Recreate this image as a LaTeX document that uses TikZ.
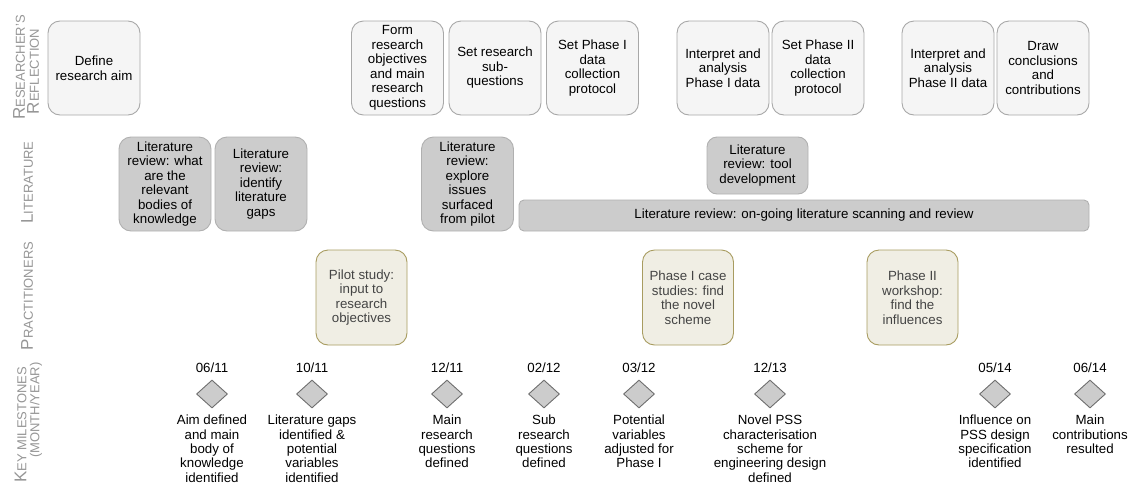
\documentclass[tikz,border=0pt]{standalone}
\usepackage{fontspec}
\setmainfont{Liberation Sans}
\usetikzlibrary{shapes.geometric}

% palette
\definecolor{refFill}{HTML}{F5F5F5}
\definecolor{refDraw}{HTML}{A8A8A8}
\definecolor{litFill}{HTML}{CCCCCC}
\definecolor{litDraw}{HTML}{B0B0B0}
\definecolor{praFill}{HTML}{F0EEE4}
\definecolor{praDraw}{HTML}{A89C60}
\definecolor{praText}{HTML}{444444}
\definecolor{msFill}{HTML}{CCCCCC}
\definecolor{msDraw}{HTML}{6E6E6E}
\definecolor{laneText}{HTML}{969696}

% text sizes
\newcommand\txtsize{\fontsize{13.3}{14.5}\selectfont}
\newcommand\mssize{\fontsize{13.3}{14.3}\selectfont}
\newcommand\capL[1]{{\fontsize{17}{17}\selectfont #1}}
\newcommand\capS[1]{{\fontsize{13}{14}\selectfont #1}}

\begin{document}
\begin{tikzpicture}[
  x=1pt, y=-1pt,
  every node/.style={font=\txtsize, align=center, inner sep=0pt},
  lane/.style={rotate=90, text=laneText},
  refbox/.style={draw=refDraw, fill=refFill, line width=0.9pt, rounded corners=12pt,
                 minimum width=92pt, minimum height=94pt},
  litbox/.style={draw=litDraw, fill=litFill, line width=0.9pt, rounded corners=12pt,
                 minimum width=92pt, minimum height=94pt},
  prabox/.style={draw=praDraw, fill=praFill, line width=0.9pt, rounded corners=12pt,
                 minimum width=91pt, minimum height=95pt, text=praText},
  msdiamond/.style={diamond, draw=msDraw, fill=msFill, line width=0.9pt,
                    minimum width=31pt, minimum height=28pt},
  msdate/.style={anchor=center},
  mstext/.style={anchor=north, font=\mssize}
]
\useasboundingbox (0,0) rectangle (1132,485);

% lane titles
\node[lane] (lane-rr1) at (19,67.5) {\capL{R}\capS{ESEARCHER'S}};
\node[lane] (lane-rr2) at (33,71.5) {\capL{R}\capS{EFLECTION}};
\node[lane] (lane-lit) at (27,182.5) {\capL{L}\capS{ITERATURE}};
\node[lane] (lane-pra) at (27,296) {\capL{P}\capS{RACTITIONERS}};
\node[lane] (lane-km1) at (20.5,425) {\capL{K}\capS{EY MILESTONES}};
\node[lane] (lane-km2) at (36,410) {\capS{(MONTH/YEAR)}};

% researcher's reflection
\node[refbox] (r1) at (94,68) {Define\\research aim};
\node[refbox] (r2) at (397.5,68) {Form\\research\\objectives\\and main\\research\\questions};
\node[refbox] (r3) at (495,68) {Set research\\sub-\\questions};
\node[refbox] (r4) at (592.5,68) {Set Phase I\\data\\collection\\protocol};
\node[refbox] (r5) at (723,68) {Interpret and\\analysis\\Phase I data};
\node[refbox] (r6) at (818,68) {Set Phase II\\data\\collection\\protocol};
\node[refbox] (r7) at (948,68) {Interpret and\\analysis\\Phase II data};
\node[refbox] (r8) at (1043,68) {Draw\\conclusions\\and\\contributions};

% literature
\node[litbox] (l1) at (165,184) {Literature\\review: what\\are the\\relevant\\bodies of\\knowledge};
\node[litbox] (l2) at (261,184) {Literature\\review:\\identify\\literature\\gaps};
\node[litbox] (l3) at (467.5,184) {Literature\\review:\\explore\\issues\\surfaced\\from pilot};
\node[litbox, minimum width=101pt, minimum height=57pt, rounded corners=10pt] (l4) at (757.5,165.5)
  {Literature\\review: tool\\development};
\node[litbox, minimum width=570pt, minimum height=31pt, rounded corners=5pt] (l5) at (804,215.5)
  {Literature review: on-going literature scanning and review};

% practitioners
\node[prabox] (p1) at (361.5,297.5) {Pilot study:\\input to\\research\\objectives};
\node[prabox] (p2) at (688,297.5) {Phase I case\\studies: find\\the novel\\scheme};
\node[prabox] (p3) at (912.5,297.5) {Phase II\\workshop:\\find the\\influences};

% key milestones
\node[msdate] (d1) at (212,368) {06/11};
\node[msdiamond] (m1) at (212,394) {};
\node[mstext] (t1) at (212,415) {Aim defined\\and main\\body of\\knowledge\\identified};

\node[msdate] (d2) at (312,368) {10/11};
\node[msdiamond] (m2) at (312,394) {};
\node[mstext] (t2) at (312,415) {Literature gaps\\identified \&\\potential\\variables\\identified};

\node[msdate] (d3) at (447,368) {12/11};
\node[msdiamond] (m3) at (447,394) {};
\node[mstext] (t3) at (447,415) {Main\\research\\questions\\defined};

\node[msdate] (d4) at (544,368) {02/12};
\node[msdiamond] (m4) at (544,394) {};
\node[mstext] (t4) at (544,415) {Sub\\research\\questions\\defined};

\node[msdate] (d5) at (639,368) {03/12};
\node[msdiamond] (m5) at (639,394) {};
\node[mstext] (t5) at (639,415) {Potential\\variables\\adjusted for\\Phase I};

\node[msdate] (d6) at (770,368) {12/13};
\node[msdiamond] (m6) at (770,394) {};
\node[mstext] (t6) at (770,415) {Novel PSS\\characterisation\\scheme for\\engineering design\\defined};

\node[msdate] (d7) at (995,368) {05/14};
\node[msdiamond] (m7) at (995,394) {};
\node[mstext] (t7) at (995,415) {Influence on\\PSS design\\specification\\identified};

\node[msdate] (d8) at (1090,368) {06/14};
\node[msdiamond] (m8) at (1090,394) {};
\node[mstext] (t8) at (1090,415) {Main\\contributions\\resulted};
\end{tikzpicture}
\end{document}
